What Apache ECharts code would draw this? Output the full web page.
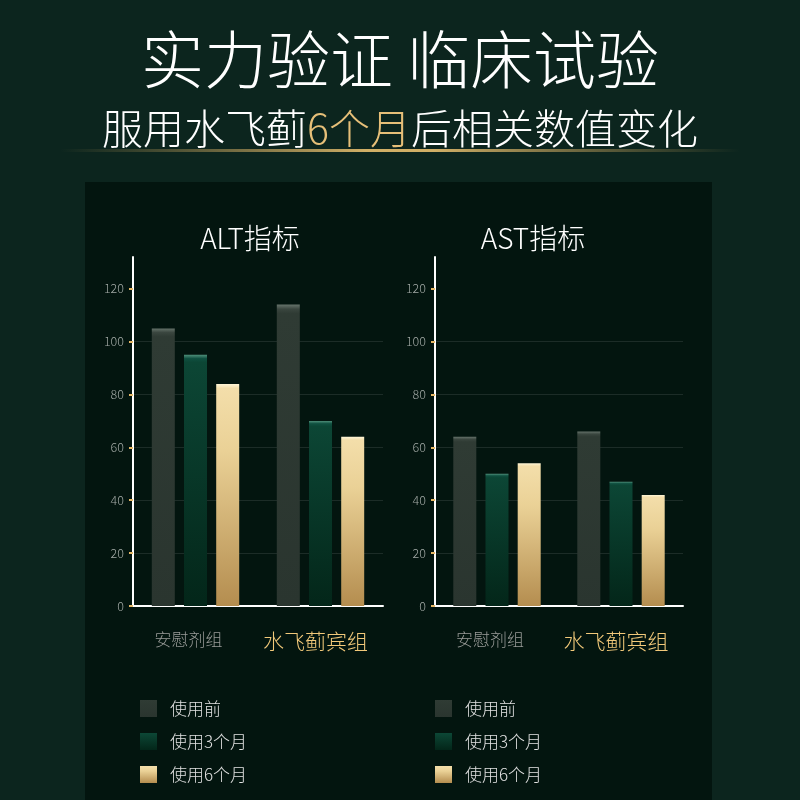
<!DOCTYPE html>
<html><head><meta charset="utf-8">
<script src="https://cdn.jsdelivr.net/npm/echarts@6/dist/echarts.min.js"></script>
<style>html,body{margin:0;padding:0;background:#0c251e;}#c{width:800px;height:800px;}</style>
</head><body><div id="c"></div>
<script>
const categories = ['安慰剂组', '水飞蓟宾组'];
const seriesNames = ['使用前', '使用3个月', '使用6个月'];
const altBefore = [105, 114];
const alt3m = [95, 70];
const alt6m = [84, 64];
const astBefore = [64, 66];
const ast3m = [50, 47];
const ast6m = [54, 42];
const yTicks = [0, 20, 40, 60, 80, 100, 120];

const FONT = '"Noto Sans CJK SC", "Noto Sans", sans-serif';
function vgrad(stops) {
  return new echarts.graphic.LinearGradient(0, 0, 0, 1, stops.map(s => ({offset: s[0], color: s[1]})));
}
const styles = [
  {color: vgrad([[0, '#66736b'], [0.015, '#3a463f'], [0.03, '#2f3b34'], [1, '#2a352f']])},
  {color: vgrad([[0, '#4f8f7a'], [0.015, '#0f5040'], [0.03, '#0c4635'], [1, '#032619']])},
  {color: vgrad([[0, '#fff6d8'], [0.02, '#f3deaa'], [0.3, '#ead196'], [1, '#b48d4f']])}
];

function yAxis(gi) {
  return {
    type: 'value', gridIndex: gi, min: 0, max: 132, interval: 20,
    axisLine: {show: true, lineStyle: {color: '#ffffff', width: 2}},
    axisTick: {show: true, length: 4, customValues: yTicks, lineStyle: {color: '#e6b866', width: 2}},
    axisLabel: {color: '#a3aaa6', fontSize: 12.5, margin: 9, fontFamily: FONT, fontWeight: 300, customValues: yTicks},
    splitLine: {show: true, showMaxLine: false, lineStyle: {color: 'rgba(255,255,255,0.1)', width: 1}}
  };
}
function xAxis(gi) {
  return {
    type: 'category', gridIndex: gi, data: categories,
    axisLine: {show: true, lineStyle: {color: '#ffffff', width: 2}},
    axisTick: {show: false},
    axisLabel: {
      margin: 25, fontFamily: FONT,
      formatter: (v, i) => i === 0 ? '{a|' + v + '}' : '{b|' + v + '}',
      rich: {
        a: {color: '#9a9c99', fontSize: 17, fontWeight: 300, fontFamily: FONT, padding: [0, 14, 0, 0]},
        b: {color: '#f2c97a', fontSize: 21, fontWeight: 300, fontFamily: FONT, padding: [0, 10, 0, 0]}
      }
    }
  };
}
function bars(gi, arrs) {
  return arrs.map((d, k) => ({
    name: seriesNames[k], type: 'bar', xAxisIndex: gi, yAxisIndex: gi,
    data: d, barWidth: 23, barGap: '40%', itemStyle: styles[k]
  }));
}
function legend(left) {
  return {
    data: seriesNames, orient: 'vertical', left: left, top: 695, itemGap: 16,
    itemWidth: 17, itemHeight: 17, icon: 'rect',
    textStyle: {color: '#e2e2e2', fontSize: 17, fontFamily: FONT, fontWeight: 300, padding: [0, 0, 0, 8]}
  };
}

const chart = echarts.init(document.getElementById('c'));
chart.setOption({
  backgroundColor: '#0c251e',
  animation: false,
  graphic: [
    {type: 'rect', shape: {x: 85, y: 182, width: 627, height: 618}, style: {fill: '#03150f'}, z: -10},
    {type: 'rect', shape: {x: 60, y: 149, width: 680, height: 3},
     style: {fill: new echarts.graphic.LinearGradient(0, 0, 1, 0, [
       {offset: 0, color: 'rgba(200,160,90,0)'}, {offset: 0.45, color: 'rgba(230,190,110,0.9)'},
       {offset: 0.55, color: 'rgba(230,190,110,0.9)'}, {offset: 1, color: 'rgba(200,160,90,0)'}])}, z: -5},
    {type: 'text', left: 'center', top: 28, style: {text: '实力验证 临床试验', fill: '#ffffff', font: '300 63px ' + FONT}},
    {type: 'text', left: 'center', top: 108, style: {
      text: '{w|服用水飞蓟}{g|6个月}{w|后相关数值变化}',
      rich: {w: {fill: '#ffffff', fontSize: 41, fontWeight: 300, fontFamily: FONT}, g: {fill: '#e6bf78', fontSize: 41, fontWeight: 300, fontFamily: FONT}}
    }},
    {type: 'text', x: 250, y: 238, style: {text: 'ALT指标', fill: '#ffffff', font: '300 28px ' + FONT, align: 'center', verticalAlign: 'middle'}},
    {type: 'text', x: 533, y: 238, style: {text: 'AST指标', fill: '#ffffff', font: '300 28px ' + FONT, align: 'center', verticalAlign: 'middle'}}
  ],
  legend: [legend(135), legend(430)],
  grid: [
    {left: 133, top: 257, width: 250, height: 349},
    {left: 435, top: 257, width: 248, height: 349}
  ],
  xAxis: [xAxis(0), xAxis(1)],
  yAxis: [yAxis(0), yAxis(1)],
  series: [...bars(0, [altBefore, alt3m, alt6m]), ...bars(1, [astBefore, ast3m, ast6m])]
});
</script></body></html>
